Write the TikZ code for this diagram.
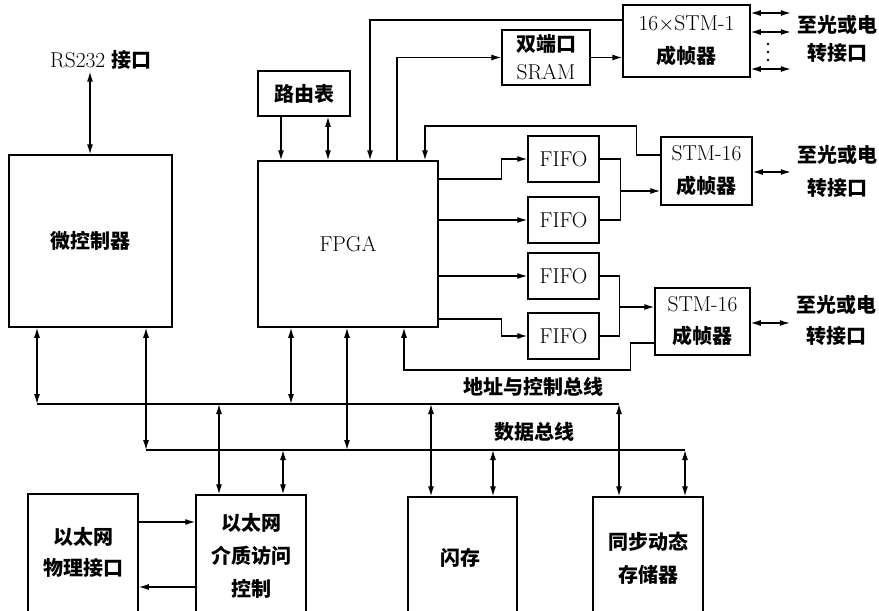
\documentclass[tikz,border=0pt]{standalone}
\usepackage{fontspec}
\newfontfamily\cjk{Noto Sans CJK SC}
\usetikzlibrary{arrows.meta,calc}
\newcommand\zh[1]{{\fontsize{20}{24}\selectfont\cjk\bfseries #1}}
\begin{document}
\begin{tikzpicture}[x=1pt,y=-1pt,
  box/.style={draw, line width=1.5pt, inner sep=0pt, align=center, font=\fontsize{21.5}{24}\selectfont},
  txt/.style={inner sep=2pt, align=center, font=\fontsize{21.5}{24}\selectfont},
  conn/.style={line width=1.2pt},
  arr/.style={conn, -{Latex[length=10pt,width=6pt]}},
  darr/.style={conn, {Latex[length=10pt,width=6pt]}-{Latex[length=10pt,width=6pt]}}]
\useasboundingbox (0,0) rectangle (879,611);

% boxes
\node[box, minimum width=163pt, minimum height=172pt] (mcu) at (90.5,241) {\zh{微控制器}};
\node[box, minimum width=92pt, minimum height=45pt] (route) at (304,93.5) {\zh{路由表}};
\node[box, minimum width=180pt, minimum height=166pt] (fpga) at (348,244) {FPGA};
\node[box, minimum width=88pt, minimum height=55pt] (sram) at (546,57.5) {\zh{双端口}\\[4pt]SRAM};
\node[box, minimum width=127pt, minimum height=72pt] (stm1) at (686.5,41) {16$\times$STM-1\\[9pt]\zh{成帧器}};
\node[box, minimum width=71pt, minimum height=46pt] (fifo1) at (563.5,159) {FIFO};
\node[box, minimum width=71pt, minimum height=46pt] (fifo2) at (563.5,220) {FIFO};
\node[box, minimum width=71pt, minimum height=46pt] (fifo3) at (563.5,276) {FIFO};
\node[box, minimum width=71pt, minimum height=46pt] (fifo4) at (563.5,336) {FIFO};
\node[box, minimum width=91pt, minimum height=68pt] (stm16a) at (706.5,171) {STM-16\\[9pt]\zh{成帧器}};
\node[box, minimum width=95pt, minimum height=67pt] (stm16b) at (702.5,321.5) {STM-16\\[8pt]\zh{成帧器}};

\node[box, minimum width=110pt, minimum height=120pt] (phy) at (83,554) {};
\node[box, minimum width=110pt, minimum height=119pt] (mac) at (251,554.5) {};
\node[box, minimum width=109pt, minimum height=117pt] (flash) at (462.5,555.5) {};
\node[box, minimum width=110pt, minimum height=117pt] (sdram) at (648,555.5) {};
\node[txt] (phyt) at (83,552.5) {\zh{以太网}\\[7pt]\zh{物理接口}};
\node[txt] (mact) at (251,555.5) {\zh{以太网}\\[9pt]\zh{介质访问}\\[9pt]\zh{控制}};
\node[txt] (flasht) at (460,558) {\zh{闪存}};
\node[txt] (sdramt) at (648,558.5) {\zh{同步动态}\\[9pt]\zh{存储器}};

% labels
\node[txt] (rs) at (101,60) {RS232 \zh{接口}};
\node[txt] (out1) at (837,39) {\zh{至光或电}\\[4pt]\zh{转接口}};
\node[txt] (out2) at (837,171.5) {\zh{至光或电}\\[9pt]\zh{转接口}};
\node[txt] (out3) at (836,320.5) {\zh{至光或电}\\[7pt]\zh{转接口}};
\node[txt] (abl) at (533,387) {\zh{地址与控制总线}};
\node[txt] (dbl) at (534,432) {\zh{数据总线}};

% top connections
\draw[darr] (rs.south -| 90,0) -- (mcu.north -| 90,0);
\draw[arr] (route.south -| 281,0) -- (fpga.north -| 281,0);
\draw[darr] (route.south -| 328,0) -- (fpga.north -| 328,0);
\draw[arr] (stm1.west |- 0,20) -| (fpga.north -| 370,0);
\draw[arr] (fpga.north -| 397,0) |- (sram.west);
\draw[arr] (sram.east) -- (sram.east -| stm1.west);
\draw[darr, shorten >=4pt] (stm1.east |- 0,13) -- (out1.west |- 0,13);
\draw[darr, shorten >=4pt] (stm1.east |- 0,32) -- (out1.west |- 0,32);
\draw[darr, shorten >=4pt] (stm1.east |- 0,69) -- (out1.west |- 0,69);
\foreach \yy in {44,52,60} \fill (768,\yy) circle (1.3pt);

% FPGA to FIFOs
\draw[arr] (fpga.east |- 0,179) -- ++(63,0) |- (fifo1.west);
\draw[arr] (fpga.east |- fifo2.west) -- (fifo2.west);
\draw[arr] (fpga.east |- fifo3.west) -- (fifo3.west);
\draw[arr] (fpga.east |- 0,319) -- ++(63,0) |- (fifo4.west);

% FIFOs to STM-16
\draw[conn] (fifo1.east) -- ++(21,0) |- (fifo2.east);
\coordinate (j1) at (620,191);
\draw[arr] (j1) -- (stm16a.west |- j1);
\draw[conn] (fifo3.east) -- ++(20,0) |- (fifo4.east);
\coordinate (j2) at (619,307);
\draw[arr] (j2) -- (stm16b.west |- j2);
\draw[darr, shorten >=4pt] (stm16a.east |- 0,172) -- (out2.west |- 0,172);
\draw[darr, shorten >=4pt] (stm16b.east |- 0,323) -- (out3.west |- 0,323);

% STM-16 back to FPGA
\draw[arr] (stm16a.west |- 0,155) -- ++(-24,0) -- ++(0,-29) -| (fpga.north -| 425,0);
\draw[arr] (stm16b.west |- 0,343) -- ++(-24,0) -- ++(0,27) -| (fpga.south -| 404,0);

% buses
\coordinate (ab1) at (37,404); \coordinate (ab2) at (619,404);
\coordinate (db1) at (146,450); \coordinate (db2) at (685,450);
\draw[conn] (ab1) -- (ab2);
\draw[conn] (db1) -- (db2);
\draw[darr] (mcu.south -| ab1) -- (ab1);
\draw[darr] (mcu.south -| db1) -- (db1);
\draw[darr] (fpga.south -| 291,0) -- (ab1 -| 291,0);
\draw[darr] (fpga.south -| 347,0) -- (db1 -| 347,0);
\draw[darr] (ab1 -| 219,0) -- (mac.north -| 219,0);
\draw[darr] (db1 -| 283,0) -- (mac.north -| 283,0);
\draw[darr] (ab1 -| 431,0) -- (flash.north -| 431,0);
\draw[darr] (db1 -| 493,0) -- (flash.north -| 493,0);
\draw[darr] (ab2) -- (sdram.north -| ab2);
\draw[darr] (db2) -- (sdram.north -| db2);

% Ethernet
\draw[arr] (phy.east |- 0,522) -- (mac.west |- 0,522);
\draw[arr] (mac.west |- 0,587) -- (phy.east |- 0,587);
\end{tikzpicture}
\end{document}
